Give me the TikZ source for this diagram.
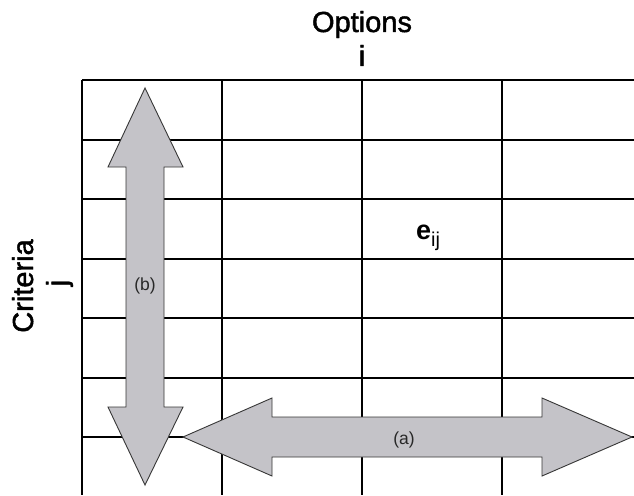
\documentclass[tikz,border=0pt]{standalone}
\usepackage{fontspec}
\setmainfont{Liberation Sans}
\newfontfamily\heavyfont[FakeBold=1.6]{Liberation Sans}
\definecolor{arrowfill}{RGB}{196,195,200}
\definecolor{arrowline}{RGB}{55,55,55}
\definecolor{labeltext}{RGB}{40,40,40}
\begin{document}
\begin{tikzpicture}[x=1pt,y=-1pt,
  gridline/.style={black,line width=1.2pt},
  bigarrow/.style={fill=arrowfill,draw=arrowline,line width=0.9pt,line join=miter},
  title/.style={inner sep=0pt,anchor=base,font=\heavyfont\fontsize{29}{31}\selectfont},
  small/.style={inner sep=0pt,anchor=base,text=labeltext,font=\fontsize{17.5}{19}\selectfont}]
\useasboundingbox[fill=white] (0,0) rectangle (634,495);
% grid
\foreach \y in {80,140,199,259,318,378,437}
  \draw[gridline] (82,\y) -- (634,\y);
\foreach \x in {82,222,362,502}
  \draw[gridline] (\x,80) -- (\x,495);
% arrow (b), vertical double arrow
\draw[bigarrow] (145,88) -- (183,167) -- (164,167) -- (164,407) -- (183,407)
  -- (145,485) -- (108,407) -- (126,407) -- (126,167) -- (108,167) -- cycle;
% arrow (a), horizontal double arrow
\draw[bigarrow] (183,437) -- (272,398) -- (272,417) -- (542,417) -- (542,398)
  -- (632,437) -- (542,476) -- (542,457) -- (272,457) -- (272,476) -- cycle;
% labels
\node[title] (options) at (362,32) {Options};
\node[title] (iidx) at (362,66) {i};
\node[title,rotate=90] (criteria) at (33,286) {Criteria};
\node[title,rotate=90] (jidx) at (67,283) {j};
\node[inner sep=0pt,anchor=base west] (eij) at (416,239)
  {\fontsize{27}{29}\selectfont\bfseries e\fontsize{20}{22}\selectfont\mdseries\raisebox{-7pt}{ij}};
\node[small] (lb) at (145,290) {(b)};
\node[small] (la) at (404,444) {(a)};
\end{tikzpicture}
\end{document}
